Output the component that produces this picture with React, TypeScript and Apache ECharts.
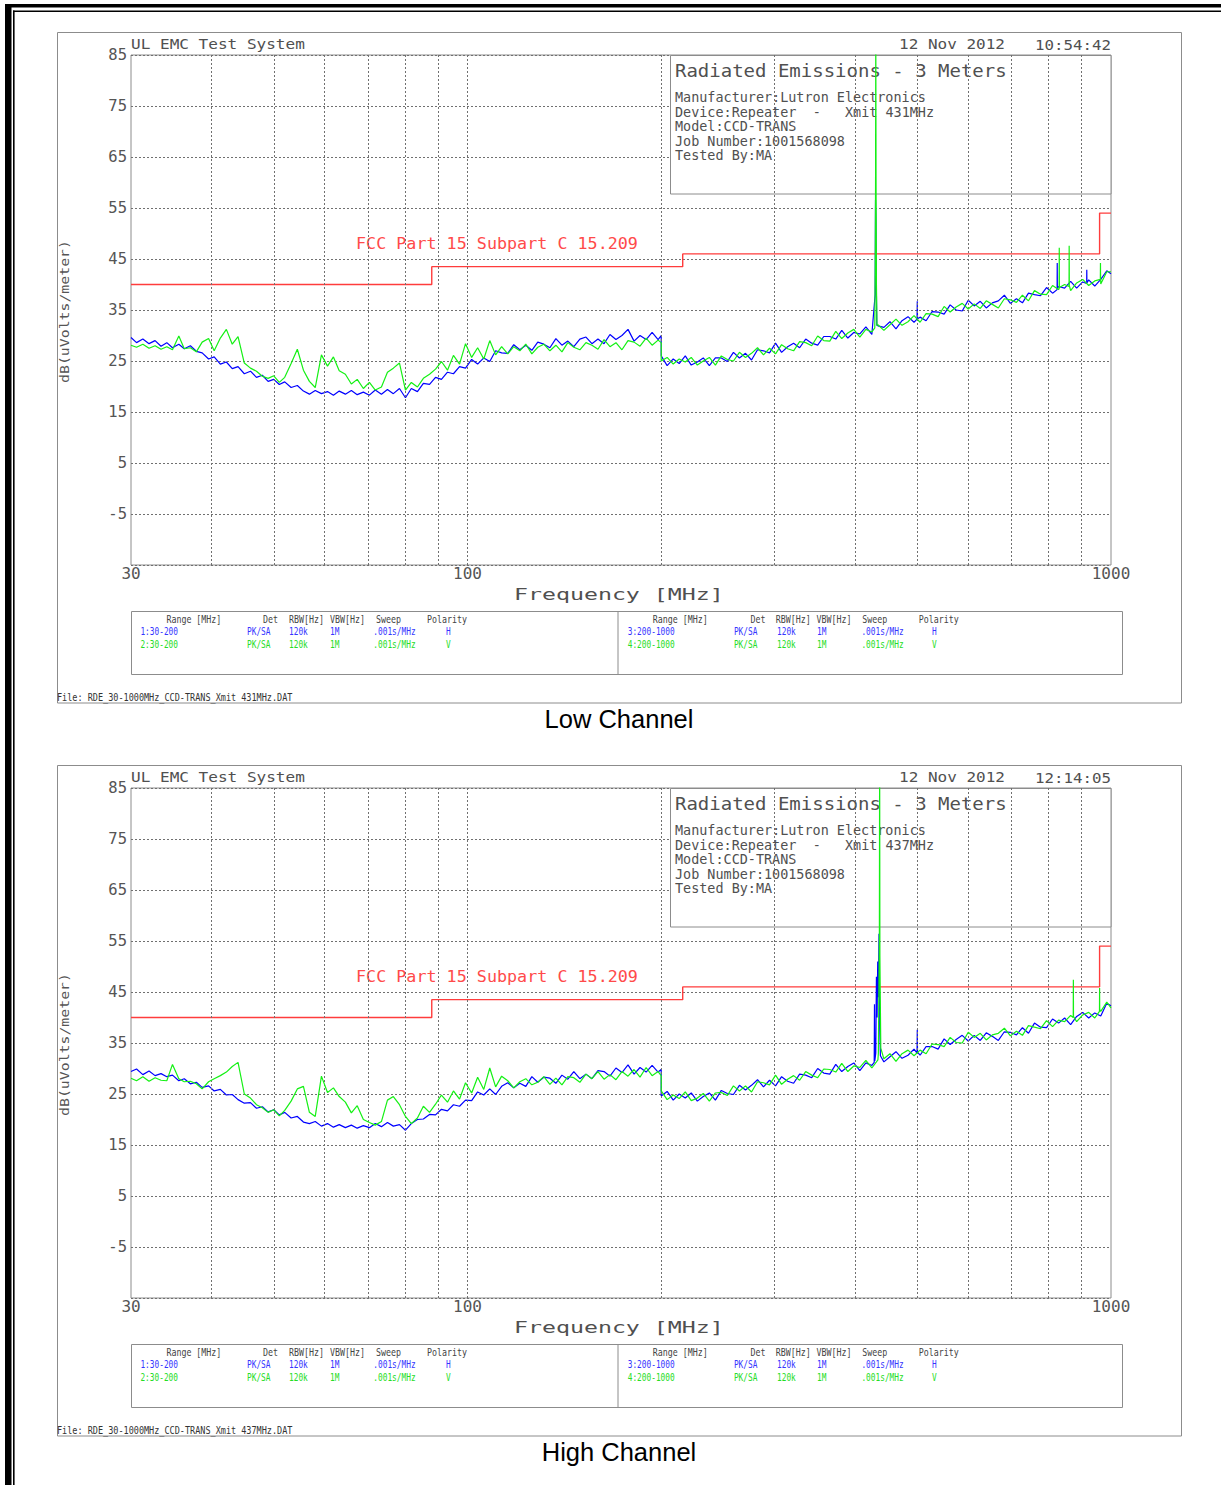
import React, { useEffect, useRef } from "react";
import * as echarts from "echarts";

// ---------- frequency grids (MHz) ----------
const FREQ_A = [
  30, 30.6, 31.3, 32, 32.7, 33.4, 34.1, 34.8, 35.6, 36.3,
  37.1, 37.9, 38.7, 39.6, 40.4, 41.3, 42.2, 43.1, 44, 45,
  46, 47, 48, 49, 50, 51, 52, 53.2, 54.4, 55.6,
  56.8, 58, 59.3, 60.6, 61.9, 63.2, 64.6, 66, 67.4, 68.9,
  70.4, 71.9, 73.5, 75.1, 76.7, 78.4, 80.1, 81.8, 83.6, 85.4,
  87.3, 89.2, 91.1, 93.1, 95.1, 97.2, 99.3, 101.5, 103.7, 106,
  108.3, 110.6, 113, 115.5, 118, 120.6, 123.2, 125.9, 128.6, 131.4,
  134.3, 137.2, 140.2, 143.2, 146.3, 149.5, 152.8, 156.1, 159.5, 163,
  166.5, 170.1, 173.8, 177.6, 181.5, 185.4, 189.5, 193.6, 197.8, 200,
];
const FREQ_B = [
  200, 204.3, 208.8, 213.3, 218, 222.7, 227.6, 232.5, 237.6, 242.8,
  248, 253.4, 259, 264.6, 270.4, 276.3, 282.3, 288.4, 294.7, 301.1,
  307.7, 314.4, 321.2, 328.2, 335.4, 342.7, 350.1, 357.8, 365.6, 373.5,
  381.6, 390, 398.4, 407.1, 416, 425, 434.3, 443.7, 453.4, 463.3,
  473.4, 483.7, 494.2, 505, 516, 527.2, 538.7, 550.4, 562.4, 574.6,
  587.2, 600, 613, 626.4, 640, 654, 668.2, 682.8, 697.7, 712.9,
  728.4, 744.3, 760.5, 777.1, 794, 811.3, 829, 847.1, 865.5, 884.4,
  903.6, 923.3, 943.5, 964, 985, 1000,
];

// ---------- Low channel traces (dBuV/m) ----------
const LOW_BLUE_A = [
  29.6, 28.6, 29.3, 28.4, 29.0, 27.9, 28.6, 27.6, 28.3, 27.4,
  28.0, 26.9, 26.6, 25.4, 25.8, 24.4, 24.8, 23.5, 23.9, 22.5,
  23.0, 21.8, 22.2, 21.0, 21.4, 20.4, 20.9, 19.8, 20.2, 19.1,
  18.5, 19.2, 18.6, 19.0, 18.3, 19.1, 18.5, 19.2, 18.4, 18.9,
  18.3, 19.3, 18.5, 19.4, 18.6, 19.6, 17.8, 19.6, 19.0, 20.6,
  20.4, 21.8, 21.4, 22.8, 22.5, 23.9, 23.6, 25.3, 24.4, 25.6,
  24.9, 27.0, 26.6, 26.5, 28.2, 27.2, 28.1, 27.1, 28.7, 28.3,
  27.6, 29.4, 28.1, 28.9, 27.8, 29.3, 29.7, 28.4, 29.3, 28.4,
  30.2, 29.2, 30.0, 31.2, 28.9, 30.0, 29.2, 30.6, 29.2, 30.0,
];
const LOW_GREEN_A = [
  28.1, 27.7, 28.3, 27.5, 28.0, 27.3, 27.8, 27.2, 29.9, 27.4,
  27.6, 26.8, 28.7, 29.4, 27.0, 29.5, 31.2, 28.3, 29.8, 24.6,
  23.6, 23.0, 22.0, 21.6, 22.1, 20.8, 21.8, 24.5, 27.3, 23.2,
  21.0, 19.8, 26.2, 24.0, 25.8, 23.1, 22.4, 20.5, 21.4, 19.6,
  20.8, 19.3, 19.9, 22.8, 23.6, 24.6, 19.3, 20.8, 19.9, 21.6,
  22.4, 23.4, 24.9, 23.2, 26.1, 24.4, 28.4, 25.7, 27.6, 25.4,
  29.0, 26.2, 27.8, 26.4, 27.8, 27.0, 28.3, 26.4, 27.7, 28.3,
  27.0, 28.1, 26.8, 28.6, 27.7, 27.2, 28.6, 28.1, 27.3, 29.2,
  27.8, 28.6, 27.2, 29.0, 28.7, 27.9, 29.5, 28.1, 29.1, 28.6,
];
const LOW_BLUE_B = [
  26.0, 24.1, 25.4, 24.5, 26.0, 24.2, 24.8, 25.6, 24.1, 25.6,
  25.6, 24.9, 26.7, 25.6, 26.5, 25.2, 27.2, 27.0, 26.6, 28.5,
  26.7, 27.8, 28.5, 27.6, 29.3, 28.5, 28.1, 29.8, 29.8, 29.3,
  31.0, 29.5, 30.6, 30.3, 31.7, 30.2, 31.9, 31.6, 32.7, 31.3,
  32.9, 33.7, 32.6, 33.6, 32.9, 34.7, 34.6, 34.2, 36.0, 35.0,
  34.8, 36.9, 35.8, 36.7, 35.4, 36.4, 36.8, 37.9, 36.3, 37.2,
  36.4, 38.3, 38.0, 37.8, 39.4, 38.3, 39.6, 39.3, 40.6, 39.3,
  40.5, 40.9, 39.7, 41.0, 42.7, 42.1,
];
const LOW_GREEN_B = [
  25.0, 25.7, 24.4, 25.4, 24.8, 25.7, 24.2, 25.0, 25.7, 24.2,
  26.0, 25.3, 25.0, 26.7, 25.7, 26.5, 27.6, 26.2, 27.5, 26.4,
  28.2, 27.4, 27.0, 28.8, 28.6, 28.0, 29.9, 29.0, 28.9, 30.8,
  29.4, 30.5, 31.2, 29.7, 31.2, 30.7, 32.1, 31.0, 32.1, 33.2,
  32.0, 32.7, 33.9, 32.6, 34.3, 34.2, 33.7, 35.7, 34.6, 35.6,
  36.3, 35.2, 36.2, 35.3, 36.8, 36.1, 35.4, 37.2, 37.0, 36.5,
  37.9, 36.8, 38.8, 38.1, 38.0, 39.8, 39.0, 40.0, 38.8, 40.3,
  41.0, 39.8, 40.7, 40.1, 42.5, 42.5,
];
const LOW_BLUE_SPIKE_F = [430, 430.6, 431.2, 431.8, 432.6, 499.6, 500, 500.4, 824.6, 825, 825.4, 916.6, 917, 917.4];
const LOW_BLUE_SPIKE_V = [38, 56.6, 52.6, 40, 32, 33.2, 36.7, 33.3, 39.0, 44.2, 39.2, 40.2, 42.9, 40.3];
const LOW_GREEN_SPIKE_F = [429.5, 430.2, 430.7, 431, 431.4, 432, 432.8, 830.6, 831, 831.4, 860.6, 861, 861.4, 962.6, 963, 963.4];
const LOW_GREEN_SPIKE_V = [31.5, 44, 62, 92, 61, 40, 32, 39.2, 47.2, 39.4, 39.6, 47.6, 39.8, 41.0, 44.2, 41.5];

// ---------- High channel traces (dBuV/m) ----------
const HIGH_BLUE_A = [
  29.4, 29.9, 28.8, 29.5, 28.6, 29.0, 28.4, 28.7, 27.6, 28.0,
  27.0, 27.3, 26.3, 26.6, 25.6, 25.9, 24.8, 24.9, 23.9, 23.2,
  23.3, 22.2, 22.5, 21.5, 21.9, 20.9, 21.4, 20.3, 20.6, 19.5,
  19.2, 19.6, 18.7, 19.2, 18.5, 19.0, 18.4, 18.9, 18.3, 18.8,
  18.4, 19.2, 18.6, 19.4, 18.7, 19.0, 17.9, 19.2, 20.0, 20.1,
  21.0, 20.9, 22.0, 21.7, 22.9, 22.6, 23.8, 23.7, 25.4, 24.8,
  26.0, 24.9, 26.5, 27.2, 26.2, 27.1, 26.5, 28.4, 27.3, 28.3,
  28.1, 27.1, 28.7, 27.9, 29.4, 28.0, 28.9, 28.0, 29.6, 29.4,
  28.5, 30.1, 29.2, 30.7, 28.9, 30.2, 29.3, 30.6, 29.3, 29.8,
];
const HIGH_GREEN_A = [
  28.1, 27.6, 28.4, 27.5, 28.2, 27.7, 27.6, 30.8, 28.0, 27.4,
  27.5, 27.0, 26.0, 27.4, 28.0, 28.6, 29.3, 30.4, 31.2, 25.0,
  24.2, 22.9, 22.3, 21.4, 21.9, 20.7, 21.8, 23.6, 26.0, 26.5,
  21.4, 20.6, 28.5, 25.3, 26.2, 24.5, 23.4, 21.3, 22.7, 20.0,
  19.4, 18.9, 19.6, 23.8, 24.5, 22.9, 20.6, 19.2, 20.3, 22.6,
  21.4, 23.0, 24.8, 23.4, 25.6, 24.0, 27.2, 25.2, 28.3, 25.9,
  30.1, 26.4, 28.5, 27.6, 26.2, 27.4, 28.0, 26.8, 27.3, 28.4,
  26.9, 28.1, 26.8, 28.4, 28.2, 27.3, 28.9, 28.0, 29.4, 27.9,
  28.8, 27.8, 29.4, 28.5, 29.8, 28.3, 30.2, 28.6, 29.4, 28.6,
];
const HIGH_BLUE_B = [
  24.6, 25.5, 23.8, 25.0, 24.2, 25.2, 23.6, 24.5, 25.2, 23.8,
  25.7, 25.1, 24.9, 26.7, 25.8, 26.7, 27.8, 26.4, 27.7, 26.6,
  28.4, 27.5, 27.1, 28.9, 28.7, 28.2, 30.0, 29.1, 28.9, 30.8,
  29.4, 30.4, 31.1, 29.6, 31.1, 30.6, 45.0, 31.3, 32.3, 33.3,
  32.0, 32.6, 33.8, 32.6, 34.3, 34.3, 33.8, 35.8, 34.7, 35.7,
  36.5, 35.4, 36.5, 35.5, 37.0, 36.3, 35.5, 37.2, 37.1, 36.6,
  38.0, 36.9, 38.9, 38.1, 38.0, 39.7, 38.9, 39.9, 38.6, 40.2,
  41.0, 39.9, 40.9, 40.3, 42.8, 42.3,
];
const HIGH_GREEN_B = [
  25.6, 23.9, 24.8, 24.1, 25.4, 23.7, 24.2, 25.1, 23.6, 25.2,
  25.3, 24.7, 26.6, 25.6, 26.6, 25.4, 27.4, 27.2, 26.8, 28.7,
  26.9, 27.9, 28.6, 27.7, 29.4, 28.7, 28.2, 29.9, 29.8, 29.3,
  31.0, 29.4, 30.5, 30.2, 31.6, 30.1, 31.7, 31.9, 32.9, 31.4,
  32.9, 33.6, 32.5, 33.6, 32.9, 34.8, 34.7, 34.3, 36.1, 35.1,
  35.0, 37.1, 36.1, 36.9, 35.6, 36.6, 36.9, 37.9, 36.4, 37.3,
  36.5, 38.4, 38.1, 37.8, 39.4, 38.2, 39.5, 39.2, 40.4, 39.2,
  40.5, 41.0, 39.9, 41.2, 43.0, 41.9,
];
const HIGH_BLUE_SPIKE_F = [428.6, 429, 429.5, 431, 432, 433, 434, 435, 436, 436.6, 437.2, 438.2, 499.6, 500, 500.4];
const HIGH_BLUE_SPIKE_V = [31.2, 42.6, 31.5, 33, 48, 40, 51, 44, 56.4, 47, 38, 32.5, 33.0, 37.6, 33.2];
const HIGH_GREEN_SPIKE_F = [435, 436, 436.6, 437, 437.4, 438, 438.8, 873.6, 874, 874.4, 959.6, 960, 960.4];
const HIGH_GREEN_SPIKE_V = [33, 48, 56, 95, 52, 44, 34, 40.0, 47.4, 40.2, 41.2, 45.8, 41.6];

// ---------- limit line FCC 15.209 ----------
const LIMIT_F = [30, 88, 88, 216, 216, 960, 960, 1000];
const LIMIT_V = [40, 40, 43.5, 43.5, 46, 46, 54, 54];
const LIMIT_LABEL = "FCC Part 15 Subpart C 15.209";

// ---------- vertical grid frequencies ----------
const GRID_FREQS = [40, 50, 60, 70, 80, 90, 100, 200, 300, 400, 500, 600, 700, 800, 900];

// ---------- texts ----------
const TIMES = ["10:54:42", "12:14:05"];
const XMITS = ["431MHz", "437MHz"];
const CAPTIONS = ["Low Channel", "High Channel"];
const TABLE_HEAD = ["Range [MHz]", "Det", "RBW[Hz]", "VBW[Hz]", "Sweep", "Polarity"];
const TABLE_LEFT_ROWS = [
  ["1:30-200", "PK/SA", "120k", "1M", ".001s/MHz", "H"],
  ["2:30-200", "PK/SA", "120k", "1M", ".001s/MHz", "V"],
];
const TABLE_RIGHT_ROWS = [
  ["3:200-1000", "PK/SA", "120k", "1M", ".001s/MHz", "H"],
  ["4:200-1000", "PK/SA", "120k", "1M", ".001s/MHz", "V"],
];

const MONO = '"DejaVu Sans Mono", "Liberation Mono", monospace';
const SANS = '"Liberation Sans", Arial, sans-serif';
const BLUE = "#0000ff";
const GREEN = "#14f014";
const TEXT = "#505050";

function buildTrace(fa: number[], va: number[], fb: number[], vb: number[], sf: number[], sv: number[]) {
  const a = fa.map((f, i) => [f, va[i]]);
  const b = fb.map((f, i) => [f, vb[i]]).concat(sf.map((f, i) => [f, sv[i]]));
  b.sort((p, q) => p[0] - q[0]);
  return a.concat(b);
}

function txt(text: string, x: number, y: number, size: number, charW: number, fill: string, align = "left", rotation = 0, z = 3) {
  return {
    type: "text",
    x,
    y,
    rotation,
    scaleX: charW / (0.602 * size),
    z,
    silent: true,
    style: {
      text,
      fill,
      fontSize: size,
      fontFamily: MONO,
      align,
      verticalAlign: "middle",
      textAlign: align,
      textVerticalAlign: "middle",
    },
  };
}

export default function App() {
  const ref = useRef<HTMLDivElement>(null);

  useEffect(() => {
    if (!ref.current) return;
    const chart = echarts.init(ref.current, undefined, { renderer: "svg" });

    const panels = [
      { blueA: LOW_BLUE_A, greenA: LOW_GREEN_A, blueB: LOW_BLUE_B, greenB: LOW_GREEN_B, bsf: LOW_BLUE_SPIKE_F, bsv: LOW_BLUE_SPIKE_V, gsf: LOW_GREEN_SPIKE_F, gsv: LOW_GREEN_SPIKE_V },
      { blueA: HIGH_BLUE_A, greenA: HIGH_GREEN_A, blueB: HIGH_BLUE_B, greenB: HIGH_GREEN_B, bsf: HIGH_BLUE_SPIKE_F, bsv: HIGH_BLUE_SPIKE_V, gsf: HIGH_GREEN_SPIKE_F, gsv: HIGH_GREEN_SPIKE_V },
    ];

    const grids: any[] = [];
    const xAxes: any[] = [];
    const yAxes: any[] = [];
    const series: any[] = [];
    const elements: any[] = [];

    // outer page border
    elements.push({ type: "rect", z: 10, silent: true, shape: { x: 5, y: 4, width: 1216, height: 3.5 }, style: { fill: "#000" } });
    elements.push({ type: "rect", z: 10, silent: true, shape: { x: 5, y: 4, width: 6.5, height: 1481 }, style: { fill: "#000" } });
    elements.push({ type: "rect", z: 10, silent: true, shape: { x: 13, y: 10.5, width: 1208, height: 1.6 }, style: { fill: "#000" } });
    elements.push({ type: "rect", z: 10, silent: true, shape: { x: 13, y: 10.5, width: 1.6, height: 1475 }, style: { fill: "#000" } });

    panels.forEach((P, p) => {
      const dy = p * 733;
      grids.push({ left: 131, top: 55 + dy, width: 980, height: 510, show: true, borderColor: "#8c8c8c", borderWidth: 1, backgroundColor: "rgba(0,0,0,0)" });
      xAxes.push({
        type: "log",
        logBase: 10,
        gridIndex: p,
        min: 30,
        max: 1000,
        axisLine: { show: false },
        axisTick: { show: false },
        splitLine: { show: false },
        axisLabel: { margin: 0, color: "#555", fontFamily: MONO, fontSize: 16, formatter: (v: number) => String(Math.round(v)) },
      });
      yAxes.push({
        type: "value",
        gridIndex: p,
        min: -15,
        max: 85,
        interval: 10,
        axisLine: { show: false },
        axisTick: { show: false },
        splitLine: { show: true, lineStyle: { color: "#707070", type: [2, 2], width: 1 } },
        axisLabel: { margin: 4, color: "#555", fontFamily: MONO, fontSize: 15.5, formatter: (v: number) => (v === -15 ? "" : String(v)) },
      });

      series.push({
        type: "line",
        xAxisIndex: p,
        yAxisIndex: p,
        data: LIMIT_F.map((f, i) => [f, LIMIT_V[i]]),
        symbol: "none",
        z: 1,
        silent: true,
        lineStyle: { color: "#ff3c3c", width: 1.4 },
        markLine: {
          silent: true,
          symbol: ["none", "none"],
          label: { show: false },
          emphasis: { disabled: true },
          lineStyle: { color: "#707070", type: [2, 2], width: 1 },
          data: GRID_FREQS.map((f) => ({ xAxis: f })),
        },
      });
      series.push({
        type: "line",
        xAxisIndex: p,
        yAxisIndex: p,
        data: buildTrace(FREQ_A, P.blueA, FREQ_B, P.blueB, P.bsf, P.bsv),
        symbol: "none",
        z: 4,
        silent: true,
        lineStyle: { color: BLUE, width: 1.2 },
      });
      series.push({
        type: "line",
        xAxisIndex: p,
        yAxisIndex: p,
        data: buildTrace(FREQ_A, P.greenA, FREQ_B, P.greenB, P.gsf, P.gsv),
        symbol: "none",
        z: 5,
        silent: true,
        lineStyle: { color: GREEN, width: 1.2 },
      });

      // panel frame
      elements.push({ type: "rect", z: 0, silent: true, shape: { x: 57.5, y: 32.5 + dy, width: 1124, height: 670.5 }, style: { fill: "none", stroke: "#8c8c8c", lineWidth: 1 } });
      // info box
      elements.push({ type: "rect", z: 2, silent: true, shape: { x: 670.5, y: 55.5 + dy, width: 440.5, height: 138.5 }, style: { fill: "#fff", stroke: "#8c8c8c", lineWidth: 1 } });
      // header
      elements.push(txt("UL EMC Test System", 131, 44.7 + dy, 14.7, 9.67, TEXT));
      elements.push(txt("12 Nov 2012", 899, 44.7 + dy, 14.7, 9.64, TEXT));
      elements.push(txt(TIMES[p], 1111, 44.7 + dy, 14.7, 9.5, TEXT, "right"));
      // info box text
      elements.push(txt("Radiated Emissions - 3 Meters", 675, 70.5 + dy, 17, 11.45, TEXT));
      elements.push(txt("Manufacturer:Lutron Electronics", 675, 96.7 + dy, 13.7, 8.1, TEXT));
      elements.push(txt("Device:Repeater", 675, 111.5 + dy, 13.7, 8.1, TEXT));
      elements.push(txt("-", 812.7, 111.5 + dy, 13.7, 8.1, TEXT));
      elements.push(txt("Xmit " + XMITS[p], 845, 111.5 + dy, 13.7, 8.1, TEXT));
      elements.push(txt("Model:CCD-TRANS", 675, 126 + dy, 13.7, 8.1, TEXT));
      elements.push(txt("Job Number:1001568098", 675, 140.5 + dy, 13.7, 8.1, TEXT));
      elements.push(txt("Tested By:MA", 675, 155.3 + dy, 13.7, 8.1, TEXT));
      // limit label
      elements.push(txt(LIMIT_LABEL, 356, 244 + dy, 16.5, 10.07, "#ff4a4a"));
      // axis titles
      elements.push(txt("dB(uVolts/meter)", 65, 311.5 + dy, 11.7, 8.94, "#555", "center", Math.PI / 2));
      elements.push(txt("Frequency [MHz]", 514, 594 + dy, 16, 14.0, TEXT));
      // table
      elements.push({ type: "rect", z: 0, silent: true, shape: { x: 131.5, y: 611.5 + dy, width: 991, height: 63 }, style: { fill: "none", stroke: "#8c8c8c", lineWidth: 1 } });
      elements.push({ type: "line", z: 0, silent: true, shape: { x1: 618, y1: 611.5 + dy, x2: 618, y2: 674.5 + dy }, style: { stroke: "#8c8c8c", lineWidth: 1 } });
      const headLeft = [166.4, 263, 289, 330, 376, 427];
      const headRight = [652.7, 750.5, 775.8, 816.6, 862.2, 918.8];
      const rowLeft = [140.4, 247, 289, 330, 373.3, 446];
      const rowRight = [627.7, 733.9, 777, 817, 861.4, 931.9];
      TABLE_HEAD.forEach((h, i) => {
        elements.push(txt(h, headLeft[i], 619 + dy, 11, 5.0, "#444"));
        elements.push(txt(h, headRight[i], 619 + dy, 11, 5.0, "#444"));
      });
      [TABLE_LEFT_ROWS, TABLE_RIGHT_ROWS].forEach((rows, side) => {
        const xs = side === 0 ? rowLeft : rowRight;
        rows.forEach((row, r) => {
          row.forEach((cell, c) => {
            elements.push(txt(cell, xs[c], 631 + r * 12.6 + dy, 10.5, 4.7, r === 0 ? "#3535ff" : "#25dd25"));
          });
        });
      });
      elements.push(txt("File: RDE_30-1000MHz_CCD-TRANS_Xmit " + XMITS[p] + ".DAT", 57, 697.5 + dy, 11, 5.12, "#333"));
      // caption
      elements.push({
        type: "text",
        x: 619,
        y: 719 + dy,
        z: 3,
        silent: true,
        style: { text: CAPTIONS[p], fill: "#000", fontSize: 25.5, fontFamily: SANS, align: "center", verticalAlign: "middle", textAlign: "center", textVerticalAlign: "middle" },
      });
    });

    chart.setOption({
      animation: false,
      backgroundColor: "#ffffff",
      grid: grids,
      xAxis: xAxes,
      yAxis: yAxes,
      series,
      graphic: { elements },
    });

    return () => chart.dispose();
  }, []);

  return <div ref={ref} style={{ position: "absolute", left: 0, top: 0, width: 1221, height: 1485 }} />;
}
